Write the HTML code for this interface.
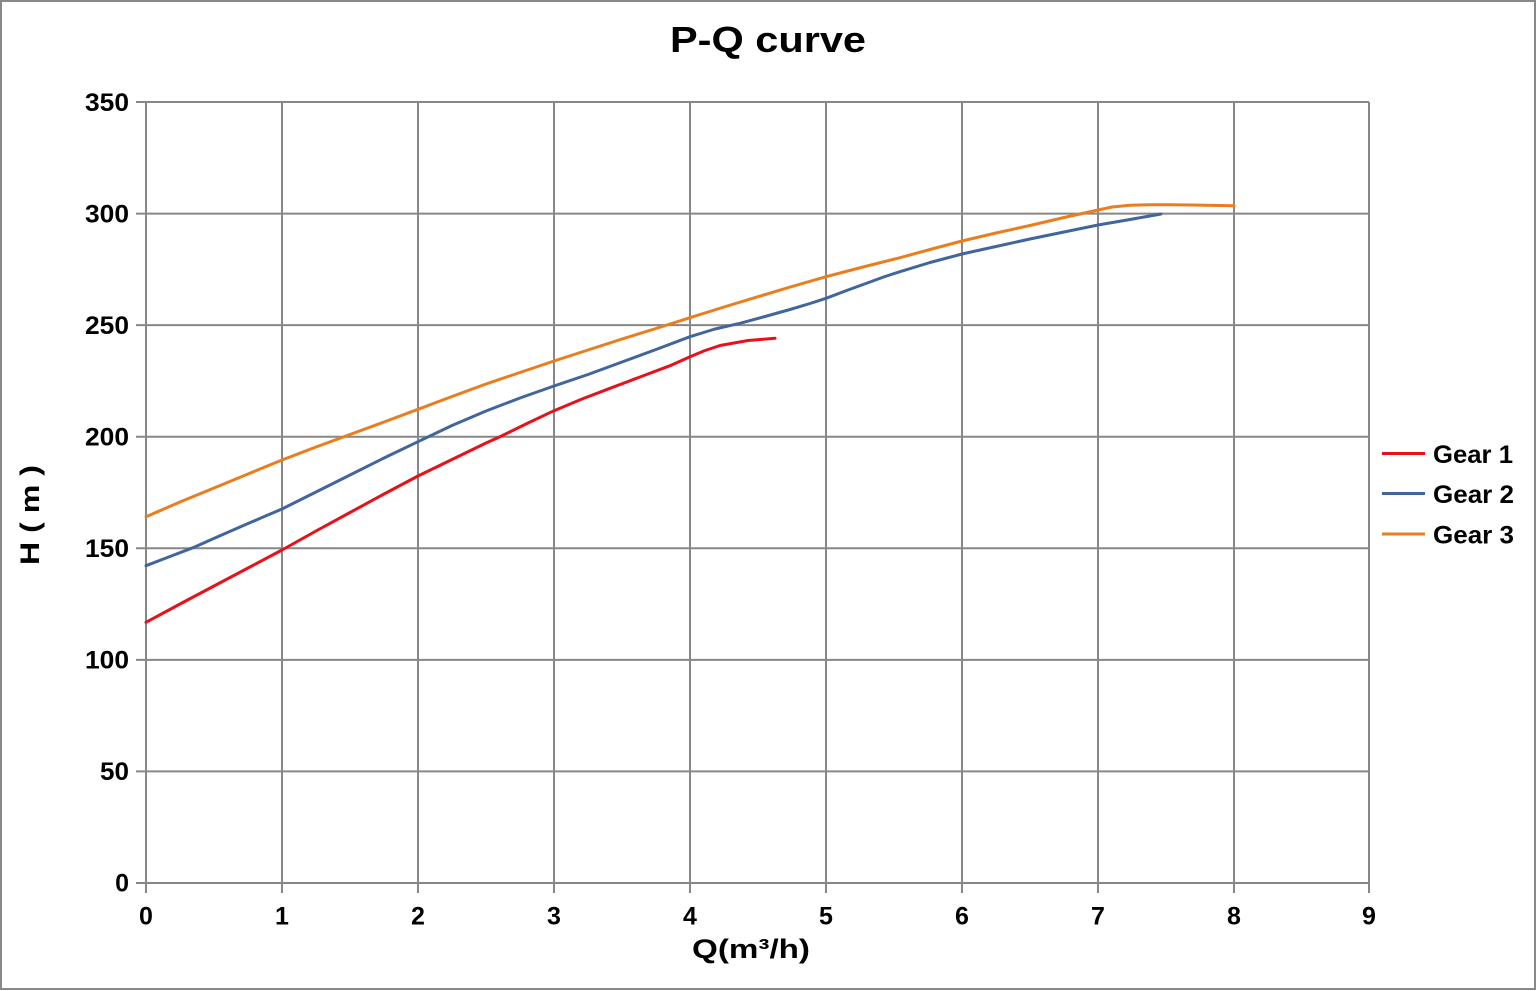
<!DOCTYPE html>
<html>
<head>
<meta charset="utf-8">
<style>
html,body{margin:0;padding:0;background:#fff;}
svg{display:block;}
text{font-family:"Liberation Sans","DejaVu Sans",sans-serif;font-weight:bold;fill:#000;}
</style>
</head>
<body>
<svg width="1536" height="991" viewBox="0 0 1536 991" xmlns="http://www.w3.org/2000/svg">
<rect x="1" y="1" width="1534" height="988" fill="#fff" stroke="#888" stroke-width="2"/>
<text x="768" y="52" font-size="36" text-anchor="middle" textLength="196" lengthAdjust="spacingAndGlyphs">P-Q  curve</text>
<g stroke="#878787" stroke-width="2" fill="none">
<line x1="136" y1="102" x2="1369" y2="102"/>
<line x1="136" y1="213.6" x2="1369" y2="213.6"/>
<line x1="136" y1="325.1" x2="1369" y2="325.1"/>
<line x1="136" y1="436.7" x2="1369" y2="436.7"/>
<line x1="136" y1="548.3" x2="1369" y2="548.3"/>
<line x1="136" y1="659.9" x2="1369" y2="659.9"/>
<line x1="136" y1="771.4" x2="1369" y2="771.4"/>
<line x1="136" y1="883" x2="1369" y2="883"/>
<line x1="146" y1="102" x2="146" y2="893"/>
<line x1="282" y1="102" x2="282" y2="893"/>
<line x1="418" y1="102" x2="418" y2="893"/>
<line x1="554" y1="102" x2="554" y2="893"/>
<line x1="690" y1="102" x2="690" y2="893"/>
<line x1="826" y1="102" x2="826" y2="893"/>
<line x1="962" y1="102" x2="962" y2="893"/>
<line x1="1098" y1="102" x2="1098" y2="893"/>
<line x1="1234" y1="102" x2="1234" y2="893"/>
<line x1="1369" y1="102" x2="1369" y2="893"/>
</g>
<g font-size="25" text-anchor="end">
<text x="129" y="111" textLength="44" lengthAdjust="spacingAndGlyphs">350</text>
<text x="129" y="222.5" textLength="44" lengthAdjust="spacingAndGlyphs">300</text>
<text x="129" y="334" textLength="44" lengthAdjust="spacingAndGlyphs">250</text>
<text x="129" y="445.5" textLength="44" lengthAdjust="spacingAndGlyphs">200</text>
<text x="129" y="557" textLength="44" lengthAdjust="spacingAndGlyphs">150</text>
<text x="129" y="668.5" textLength="44" lengthAdjust="spacingAndGlyphs">100</text>
<text x="129" y="780" textLength="29" lengthAdjust="spacingAndGlyphs">50</text>
<text x="129" y="891.5">0</text>
</g>
<g font-size="25" text-anchor="middle">
<text x="146" y="924.5">0</text>
<text x="282" y="924.5">1</text>
<text x="418" y="924.5">2</text>
<text x="554" y="924.5">3</text>
<text x="690" y="924.5">4</text>
<text x="826" y="924.5">5</text>
<text x="962" y="924.5">6</text>
<text x="1098" y="924.5">7</text>
<text x="1234" y="924.5">8</text>
<text x="1369" y="924.5">9</text>
</g>
<text x="751" y="958" font-size="27" text-anchor="middle" textLength="118" lengthAdjust="spacingAndGlyphs">Q(m³/h)</text>
<text x="0" y="0" font-size="27" text-anchor="middle" transform="translate(39,515) rotate(-90)" textLength="100" lengthAdjust="spacingAndGlyphs">H ( m )</text>
<g fill="none" stroke-width="3" stroke-linejoin="round" stroke-linecap="round">
<polyline stroke="#e8111b" points="146,622.3 180,604 214,586 248,568 282,550 316,531 350,512.5 384,494 418,476 452,459.5 486,443 500,436.7 527,423.5 554,410.7 582,399 610,388.3 640,377 670,365.7 690,356.7 705,350.5 720,345.5 748,340.5 775,338.3"/>
<polyline stroke="#41669c" points="146,565.7 170,556.5 193,547.7 216,537.5 240,527 262,517.5 282,509 316,492 350,475 384,458 418,441.7 452,425.5 486,411 520,398 554,386 588,374.5 622,362 656,349.5 690,336.7 715,329 740,323.3 765,316.5 790,309.5 810,303.5 826,298.3 848,290 870,282 885,276.5 900,271.7 930,262.5 962,254 996,246.5 1030,239 1064,232 1098,225 1130,219.5 1161,214"/>
<polyline stroke="#ea7d1e" points="146,516.7 180,502 214,488 248,474 282,460 316,447 350,434.5 384,422 418,409.3 452,396.5 486,384 520,372.5 554,361 588,350 622,339 656,328.5 690,317.7 724,307 758,296.7 792,286.5 826,276.7 863,267 900,257.7 930,249.5 962,241 996,233 1030,225.5 1064,217.5 1098,210 1112,207 1130,205.2 1150,204.7 1170,204.7 1190,205 1212,205.4 1234,205.7"/>
</g>
<g stroke-width="3">
<line x1="1382" y1="453.5" x2="1425" y2="453.5" stroke="#e8111b"/>
<line x1="1382" y1="493.5" x2="1425" y2="493.5" stroke="#41669c"/>
<line x1="1382" y1="534" x2="1425" y2="534" stroke="#ea7d1e"/>
</g>
<g font-size="25">
<text x="1433" y="463" textLength="80" lengthAdjust="spacingAndGlyphs">Gear 1</text>
<text x="1433" y="503" textLength="81" lengthAdjust="spacingAndGlyphs">Gear 2</text>
<text x="1433" y="543.5" textLength="81" lengthAdjust="spacingAndGlyphs">Gear 3</text>
</g>
</svg>
</body>
</html>
